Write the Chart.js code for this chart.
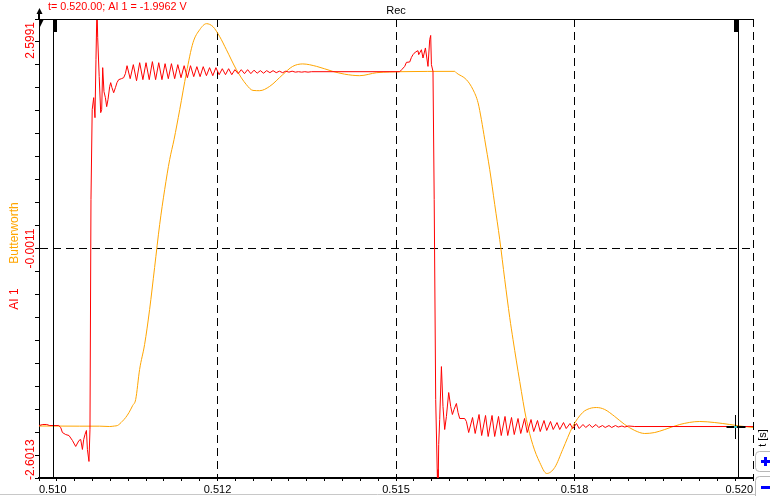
<!DOCTYPE html>
<html lang="en">
<head>
<meta charset="UTF-8">
<title>Rec</title>
<style>
  html, body { margin: 0; padding: 0; background: #fff; }
  .chart-box { position: relative; width: 770px; height: 496px; }
</style>
</head>
<body>
<div class="chart-box"><canvas id="rec"></canvas></div>
<script src="https://cdn.jsdelivr.net/npm/chart.js@4"></script>
<script>
  // time axis in seconds, samples stored as ms after T0
  const T0 = 0.510;
  const xTickLabels = ['0.510', '0.512', '0.515', '0.518', '0.520'];
  const yTickLabels = ['2.5991', '-0.0011', '-2.6013'];
  const yMin = -2.6013;
  const yMax = 2.5991;

  // AI 1 (raw channel)
  const redTimeMs = [
    0, 0.052, 0.108, 0.150, 0.276, 0.304, 0.328, 0.374, 0.420, 0.468, 0.514, 0.560, 0.584, 0.608, 0.626,
    0.644, 0.664, 0.678, 0.700, 0.714, 0.728, 0.745, 0.766, 0.784, 0.798, 0.812, 0.822, 0.843, 0.864, 0.878,
    0.892, 0.910, 0.930, 0.948, 0.966, 0.990, 1.004, 1.022, 1.046, 1.070, 1.092, 1.116, 1.154, 1.186, 1.210,
    1.233, 1.277, 1.321, 1.366, 1.410, 1.455, 1.499, 1.544, 1.588, 1.633, 1.677, 1.722, 1.766, 1.811, 1.855,
    1.900, 1.944, 1.989, 2.033, 2.078, 2.122, 2.167, 2.211, 2.256, 2.300, 2.345, 2.389, 2.434, 2.478, 2.523,
    2.567, 2.612, 2.656, 2.700, 2.744, 2.789, 2.833, 2.878, 2.922, 2.967, 3.011, 3.056, 3.100, 3.145, 3.189,
    3.234, 3.278, 3.323, 3.367, 3.412, 3.456, 3.501, 3.545, 3.590, 3.634, 3.679, 3.723, 3.768,
    3.818, 5.052, 5.080, 5.122, 5.146, 5.192, 5.216, 5.238, 5.272, 5.308, 5.318, 5.356, 5.378, 5.412, 5.448,
    5.472, 5.486, 5.496, 5.518, 5.535, 5.556, 5.577, 5.588, 5.598, 5.612, 5.636, 5.658, 5.682, 5.706, 5.738,
    5.766, 5.790, 5.813, 5.846, 5.869, 5.892, 5.962, 5.986,
    6.018, 6.072, 6.109, 6.163, 6.200, 6.254, 6.291, 6.345, 6.382, 6.436, 6.474, 6.527, 6.565, 6.618, 6.656,
    6.709, 6.747, 6.800, 6.838, 6.891, 6.929, 6.982, 7.020, 7.073, 7.111, 7.164, 7.202, 7.255, 7.293, 7.346,
    7.384, 7.437, 7.475, 7.528, 7.566, 7.619, 7.657, 7.710, 7.748, 7.801, 7.839, 7.892, 7.930, 7.983, 8.021,
    8.074, 8.112, 8.165, 8.203, 8.256, 8.344, 10.000
  ];
  const redVolts = [
    -2.007, -1.995, -1.995, -2.007, -2.007, -2.029, -2.086, -2.109, -2.120, -2.176, -2.244, -2.176, -2.165, -2.278, -2.165,
    -2.109, -2.063, -2.278, -2.414, -2.052, 0.553, 1.572, 1.708, 1.481, 2.138, 2.761, 2.387, 1.946, 1.538, 1.572,
    2.048, 1.776, 1.708, 1.606, 1.685, 1.832, 1.878, 1.821, 1.764, 1.821, 1.878, 1.912, 1.923, 1.934, 1.980,
    2.070, 1.923, 2.082, 1.900, 2.104, 1.912, 2.104, 1.912, 2.116, 1.912, 2.104, 1.912, 2.093, 1.923, 2.093,
    1.923, 2.082, 1.934, 2.070, 1.934, 2.070, 1.946, 2.059, 1.946, 2.059, 1.957, 2.048, 1.957, 2.048, 1.968,
    2.036, 1.968, 2.036, 1.968, 2.025, 1.980, 2.025, 1.980, 2.025, 1.980, 2.019, 1.985, 2.014, 1.985, 2.014,
    1.991, 2.014, 1.991, 2.008, 1.991, 2.008, 1.997, 2.008, 1.997, 2.002, 1.997, 2.002, 1.997,
    2.002, 2.002, 2.025, 2.062, 2.108, 2.112, 2.164, 2.195, 2.225, 2.240, 2.195, 2.251, 2.157, 2.271, 2.062,
    2.365, 2.413, 2.082, 2.006, 0.553, -1.712, -2.504, -2.845, -2.222, -1.939, -1.339, -1.791, -2.052, -1.904, -1.633,
    -1.791, -1.882, -1.825, -1.757, -1.859, -1.927, -1.927, -1.961,
    -2.086, -1.916, -2.097, -1.882, -2.120, -1.893, -2.131, -1.893, -2.131, -1.904, -2.120, -1.904, -2.120, -1.916, -2.109,
    -1.927, -2.097, -1.927, -2.086, -1.939, -2.075, -1.950, -2.075, -1.950, -2.063, -1.961, -2.052, -1.973, -2.052, -1.973,
    -2.041, -1.984, -2.041, -1.984, -2.041, -1.995, -2.029, -1.995, -2.029, -1.995, -2.029, -2.007, -2.029, -2.007, -2.029,
    -2.007, -2.024, -2.012, -2.024, -2.012, -2.018, -2.018
  ];

  // Butterworth (filtered channel)
  const filtTimeMs = [
    0, 0.570, 0.850, 0.990, 1.060, 1.098, 1.168, 1.214, 1.261, 1.312, 1.354, 1.409, 1.479, 1.549, 1.619,
    1.690, 1.760, 1.830, 1.891, 1.971, 2.065, 2.157, 2.251, 2.345, 2.437, 2.531, 2.625, 2.765, 2.905, 2.997,
    3.091, 3.231, 3.413, 3.553, 3.693, 3.889, 4.113, 4.281, 4.492, 4.730, 4.912, 5.052, 5.822, 5.846, 5.986,
    6.079, 6.149, 6.196, 6.243, 6.313, 6.383, 6.453, 6.523, 6.593, 6.639, 6.733, 6.826, 6.915, 7.013, 7.111,
    7.223, 7.335, 7.475, 7.615, 7.713, 7.811, 7.923, 8.063, 8.203, 8.344, 8.484, 8.624, 8.764, 8.974, 9.254,
    9.464, 9.674, 9.814, 10.000
  ];
  const filtVolts = [
    -2.012, -2.014, -2.014, -2.018, -2.012, -2.007, -1.958, -1.916, -1.859, -1.780, -1.712, -1.372, -1.089, -0.693, -0.217,
    0.270, 0.666, 1.006, 1.232, 1.572, 1.991, 2.331, 2.478, 2.546, 2.512, 2.399, 2.251, 2.025, 1.855, 1.790,
    1.787, 1.836, 1.968, 2.062, 2.090, 2.062, 2.006, 1.974, 1.957, 1.991, 1.999, 2.002, 2.006, 1.988, 1.912,
    1.798, 1.651, 1.459, 1.232, 0.892, 0.496, 0.100, -0.353, -0.784, -1.033, -1.508, -1.939, -2.222, -2.425, -2.550,
    -2.482, -2.278, -2.018, -1.859, -1.814, -1.803, -1.825, -1.904, -1.995, -2.063, -2.097, -2.086, -2.052, -1.995, -1.961,
    -1.973, -1.995, -2.012, -2.029
  ];

  // cursors (ms after T0) and the crosshair sample
  const cursorTimesMs = [0.196, 9.796];
  const crossTimeMs = 9.754;
  const crossVolts = -2.018;

  const FONT = '"Liberation Sans", Arial, sans-serif';
  const RED = '#ff0000';
  const ORANGE = '#ffa500';

  const toPoints = (ts, vs) => ts.map((t, i) => ({ x: T0 + t / 1000, y: vs[i] }));
  const xTickVals = Array.from({ length: 41 }, (_, i) => T0 + i * 0.00025);
  const yTickVals = Array.from({ length: 21 }, (_, i) => yMin + i * (yMax - yMin) / 20);

  function rotText(ctx, text, x, y, align, color) {
    ctx.save();
    ctx.translate(x, y);
    ctx.rotate(-Math.PI / 2);
    ctx.textAlign = align;
    ctx.textBaseline = 'middle';
    ctx.fillStyle = color;
    ctx.fillText(text, 0, 0);
    ctx.restore();
  }

  function roundBox(ctx, x, y, w, h, r) {
    ctx.beginPath();
    ctx.moveTo(x + r, y);
    ctx.lineTo(x + w - r, y);
    ctx.quadraticCurveTo(x + w, y, x + w, y + r);
    ctx.lineTo(x + w, y + h - r);
    ctx.quadraticCurveTo(x + w, y + h, x + w - r, y + h);
    ctx.lineTo(x + r, y + h);
    ctx.quadraticCurveTo(x, y + h, x, y + h - r);
    ctx.lineTo(x, y + r);
    ctx.quadraticCurveTo(x, y, x + r, y);
    ctx.stroke();
  }

  const recDecor = {
    id: 'recDecor',
    afterDatasetsDraw(chart) {
      const { ctx, chartArea: a, scales: { x, y } } = chart;
      ctx.save();
      ctx.strokeStyle = '#000';
      ctx.fillStyle = '#000';
      ctx.lineWidth = 1;
      // top frame line
      ctx.beginPath();
      ctx.moveTo(a.left, a.top + 0.5);
      ctx.lineTo(a.right, a.top + 0.5);
      ctx.stroke();
      // measuring cursors with their handles
      cursorTimesMs.forEach((t, i) => {
        const px = Math.round(x.getPixelForValue(T0 + t / 1000)) + 0.5;
        ctx.beginPath();
        ctx.moveTo(px, a.top);
        ctx.lineTo(px, a.bottom);
        ctx.stroke();
        if (i === 0) ctx.fillRect(px - 0.5, a.top, 4, 13);
        else ctx.fillRect(px - 4.5, a.top, 5, 13);
      });
      // crosshair on the sampled value
      const cx = Math.round(x.getPixelForValue(T0 + crossTimeMs / 1000)) + 0.5;
      const cy = Math.round(y.getPixelForValue(crossVolts));
      ctx.beginPath();
      ctx.moveTo(cx, cy - 12);
      ctx.lineTo(cx, cy + 12);
      ctx.stroke();
      ctx.fillRect(cx - 9, cy - 1, 19, 2);
      ctx.fillStyle = '#40c0c0';
      ctx.fillRect(cx - 1.5, cy - 1, 3, 2);
      ctx.restore();
    },
    afterDraw(chart) {
      const { ctx, chartArea: a, scales: { y } } = chart;
      ctx.save();
      // header readout and title
      ctx.font = '10.8px ' + FONT;
      ctx.fillStyle = RED;
      ctx.textAlign = 'left';
      ctx.textBaseline = 'middle';
      ctx.fillText('t= 0.520.00; AI 1 = -1.9962 V', 48, 7.5);
      ctx.font = '11px ' + FONT;
      ctx.fillStyle = '#000';
      ctx.textAlign = 'center';
      ctx.fillText('Rec', (a.left + a.right) / 2, 11);

      // y axis marker arrow
      ctx.beginPath();
      ctx.moveTo(a.left + 0.5, 8);
      ctx.lineTo(a.left - 2.5, 14);
      ctx.lineTo(a.left + 3.5, 14);
      ctx.closePath();
      ctx.fill();
      ctx.fillRect(a.left - 1, 14, 2, 5);
      ctx.beginPath();
      ctx.moveTo(a.left + 1, a.top);
      ctx.lineTo(a.left + 5, a.top);
      ctx.lineTo(a.left + 1, a.top + 8);
      ctx.closePath();
      ctx.fill();

      // y range labels and channel names
      ctx.font = '12px ' + FONT;
      rotText(ctx, yTickLabels[0], 31, a.top + 3, 'right', RED);
      rotText(ctx, yTickLabels[1], 31, y.getPixelForValue(-0.0011), 'center', RED);
      rotText(ctx, yTickLabels[2], 31, a.bottom + 2, 'left', RED);
      rotText(ctx, 'Butterworth', 15, 233, 'center', ORANGE);
      rotText(ctx, 'AI 1', 15, 299, 'center', RED);

      // time unit and zoom buttons on the right
      ctx.font = '11px ' + FONT;
      rotText(ctx, 't [s]', 763, 438, 'center', '#000');
      ctx.strokeStyle = '#b8b8b8';
      ctx.lineWidth = 1;
      roundBox(ctx, 755.5, 451.5, 22, 20, 4);
      roundBox(ctx, 755.5, 476.5, 22, 24, 4);
      ctx.fillStyle = '#0000ff';
      ctx.fillRect(761, 460, 9, 3);
      ctx.fillRect(764, 457, 3, 9);
      ctx.fillRect(761, 486, 9, 3);

      // bottom separator
      ctx.strokeStyle = '#c8c8c8';
      ctx.beginPath();
      ctx.moveTo(0, 494.5);
      ctx.lineTo(755, 494.5);
      ctx.stroke();
      ctx.restore();
    }
  };

  new Chart(document.getElementById('rec'), {
    type: 'line',
    data: {
      datasets: [
        {
          label: 'AI 1',
          data: toPoints(redTimeMs, redVolts),
          borderColor: RED,
          borderWidth: 1,
          pointRadius: 0,
          tension: 0
        },
        {
          label: 'Butterworth',
          data: toPoints(filtTimeMs, filtVolts),
          borderColor: ORANGE,
          borderWidth: 1,
          pointRadius: 0,
          cubicInterpolationMode: 'monotone'
        }
      ]
    },
    options: {
      responsive: true,
      maintainAspectRatio: false,
      animation: false,
      events: [],
      layout: { padding: { top: 19, right: 17, bottom: 0, left: 0 } },
      plugins: { legend: { display: false }, tooltip: { enabled: false } },
      scales: {
        x: {
          type: 'linear',
          min: 0.510,
          max: 0.520,
          afterBuildTicks: s => { s.ticks = xTickVals.map(v => ({ value: v })); },
          afterFit: s => { s.height = 18; },
          ticks: {
            autoSkip: false,
            maxRotation: 0,
            align: 'inner',
            padding: 2,
            color: '#000',
            font: { family: FONT, size: 11 },
            callback: (v, i) => (i % 10 === 0 ? xTickLabels[i / 10] : '')
          },
          grid: {
            color: c => (c.index % 10 === 0 && c.index > 0 ? '#000' : 'rgba(0,0,0,0)'),
            tickColor: '#000',
            tickLength: 3,
            lineWidth: 1
          },
          border: { color: '#000', width: 2, dash: [8, 5] }
        },
        y: {
          type: 'linear',
          min: yMin,
          max: yMax,
          afterBuildTicks: s => { s.ticks = yTickVals.map(v => ({ value: v })); },
          afterFit: s => { s.width = 39; },
          ticks: { display: false },
          grid: {
            color: c => (c.index === 10 ? '#000' : 'rgba(0,0,0,0)'),
            tickColor: '#000',
            tickLength: 4,
            lineWidth: 1
          },
          border: { color: '#000', width: 1, dash: [8, 5] }
        }
      }
    },
    plugins: [recDecor]
  });
</script>
</body>
</html>
